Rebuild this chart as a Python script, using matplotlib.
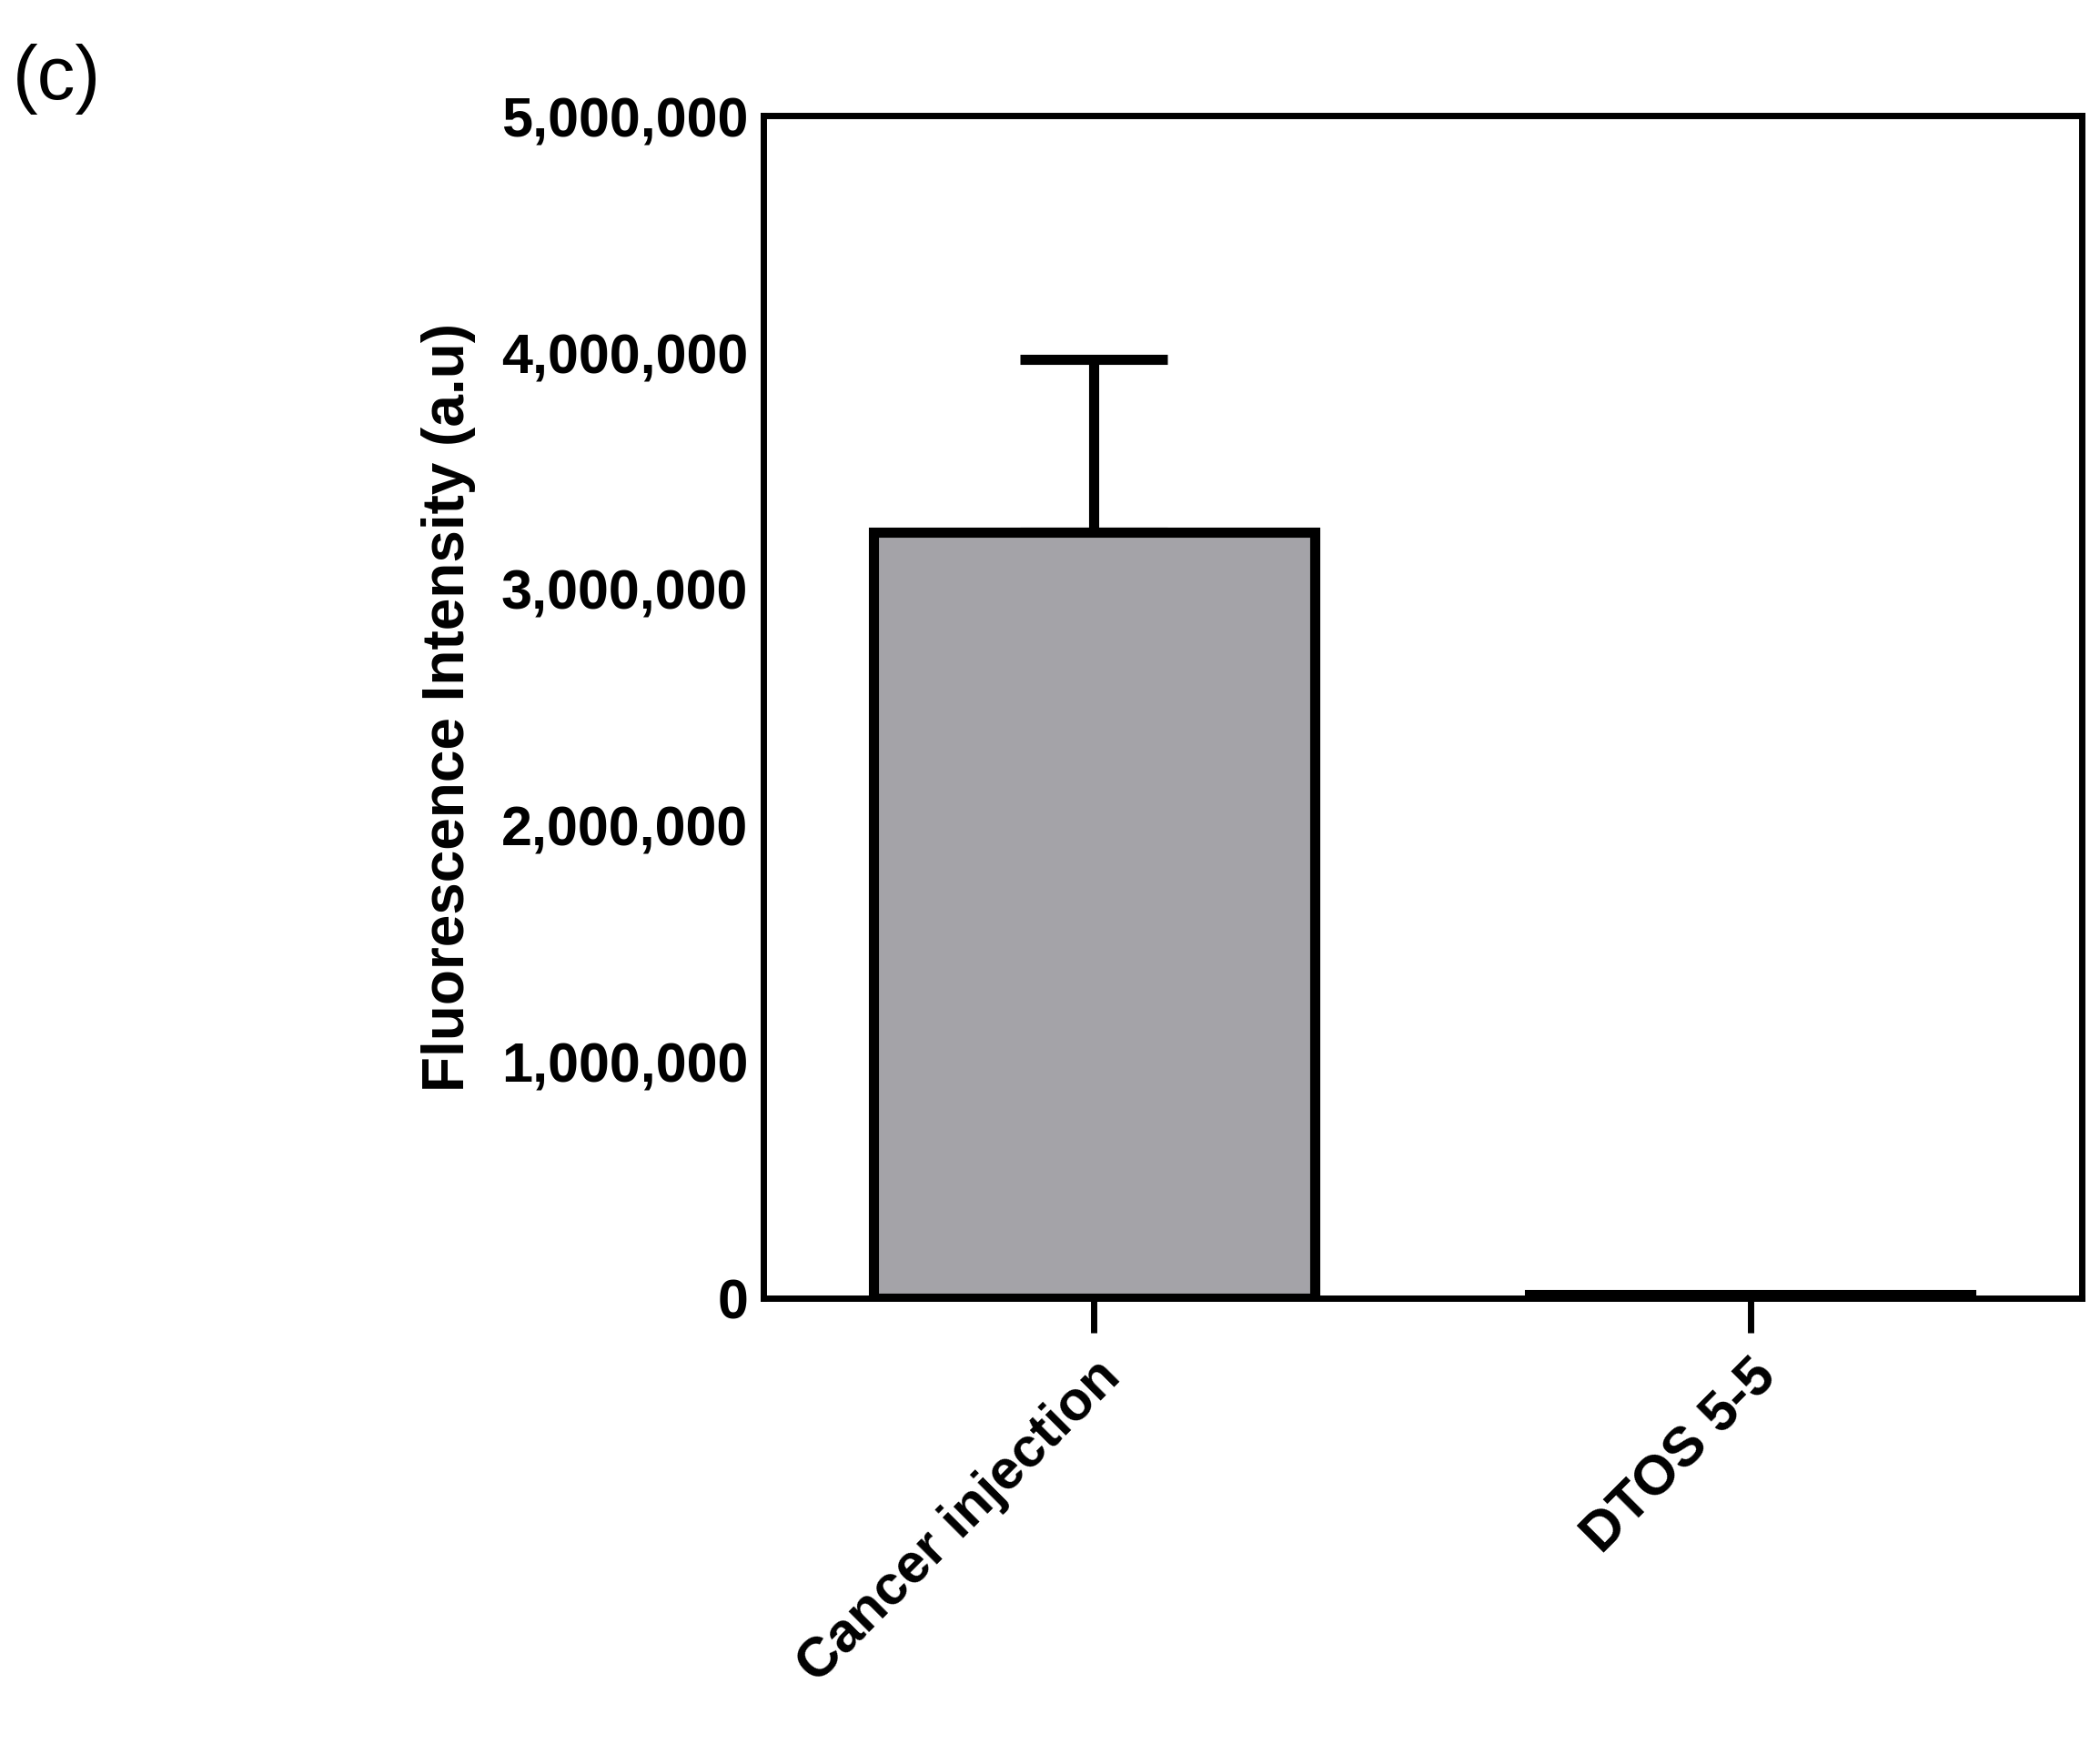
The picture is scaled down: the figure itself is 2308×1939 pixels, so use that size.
import matplotlib
matplotlib.use("Agg")
import matplotlib.pyplot as plt
from matplotlib.ticker import FuncFormatter

categories = ["Cancer injection", "DTOS 5-5"]
values = [3240000, 15000]
errors = [730000, 0]
yticks = [0, 1000000, 2000000, 3000000, 4000000, 5000000]

plt.rcParams['font.family'] = ['Liberation Sans', 'DejaVu Sans']
fig = plt.figure(figsize=(23.08, 19.40), dpi=100)
ax = fig.add_axes([0.3635, 0.264, 0.628, 0.670])
x = list(range(len(categories)))
ax.bar(x, values, width=0.673, color='#a4a3a8', edgecolor='black', linewidth=8, zorder=2)
ax.errorbar(x[0], values[0], yerr=[[0], [errors[0]]], fmt='none', ecolor='black',
            elinewidth=8, capsize=58, capthick=8, zorder=1)
ax.set_xlim(-0.504, 1.506)
ax.set_ylim(0, 5000000)
ax.set_yticks(yticks)
ax.yaxis.set_major_formatter(FuncFormatter(lambda v, p: f"{int(v):,}"))
ax.set_xticks(x)
ax.set_xticklabels(categories, rotation=45, ha='right', rotation_mode='anchor')
for s in ax.spines.values():
    s.set_linewidth(5)
ax.tick_params(axis='both', width=5, length=27, labelsize=44, direction='out')
ax.tick_params(axis='y', length=0, pad=12)
ax.tick_params(axis='x', pad=14)
for lbl in ax.get_xticklabels() + ax.get_yticklabels():
    lbl.set_fontweight('bold')
ax.set_ylabel("Fluorescence Intensity (a.u)", fontsize=46, fontweight='bold', labelpad=20)
fig.text(0.006, 0.955, "(c)", fontsize=60, va='center', ha='left')
fig.savefig("out.png", dpi=100)
